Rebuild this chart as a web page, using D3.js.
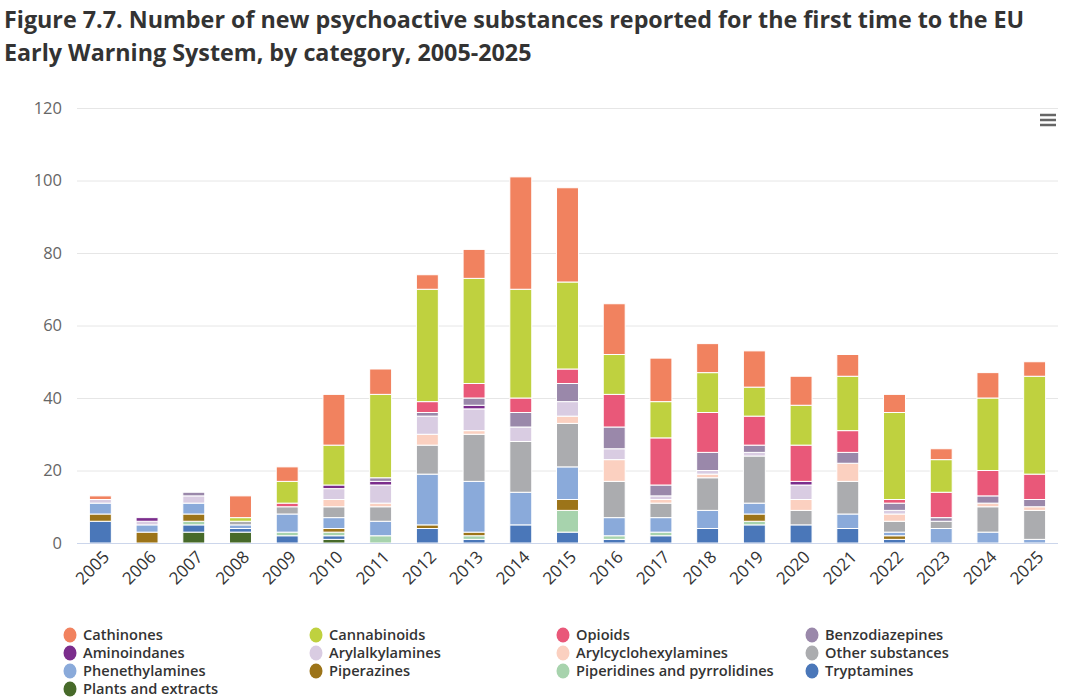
<!DOCTYPE html>
<html>
<head>
<meta charset="utf-8">
<script src="https://cdn.jsdelivr.net/npm/d3@7"></script>
<style>
	body { margin: 0; background: #fff; }
	svg { font-family: "Open Sans", "Noto Sans", sans-serif; }
</style>
</head>
<body>
<div id="chart"></div>
<script>
// categories
const years = ["2005","2006","2007","2008","2009","2010","2011","2012","2013","2014","2015",
	"2016","2017","2018","2019","2020","2021","2022","2023","2024","2025"];

// series values, one per year
const cathinones         = [1,0,0,6,4,14,7,4,8,31,26,14,12,8,10,8,6,5,3,7,4];
const cannabinoids       = [0,0,0,1,6,11,23,31,29,30,24,11,10,11,8,11,15,24,9,20,27];
const opioids            = [0,0,0,0,1,0,0,3,4,4,4,9,13,11,8,10,6,1,7,7,7];
const benzodiazepines    = [0,0,1,0,0,0,1,1,2,4,5,6,3,5,2,0,3,2,1,2,2];
const aminoindanes       = [0,1,0,0,0,1,1,0,1,0,0,0,0,0,0,1,0,0,0,0,0];
const arylalkylamines    = [1,1,2,0,0,3,5,5,6,4,4,3,1,1,1,4,0,1,0,0,0];
const arylcyclohexylamines = [0,0,0,0,0,2,1,3,1,0,2,6,1,1,0,3,5,2,0,1,1];
const otherSubstances    = [0,0,0,1,2,3,4,8,13,14,12,10,4,9,13,4,9,3,2,7,8];
const phenethylamines    = [3,2,3,1,5,3,4,14,14,9,9,5,4,5,3,0,4,1,4,3,1];
const piperazines        = [2,3,2,0,0,1,0,1,1,0,3,0,0,0,2,0,0,1,0,0,0];
const piperidines        = [0,0,1,0,1,1,2,0,1,0,6,1,1,0,1,0,0,0,0,0,0];
const tryptamines        = [6,0,2,1,2,1,0,4,1,5,3,1,2,4,5,5,4,1,0,0,0];
const plantsExtracts     = [0,0,3,3,0,1,0,0,0,0,0,0,0,0,0,0,0,0,0,0,0];

// tick labels
const yTicks = [0,20,40,60,80,100,120];

// legend order (first = top of the stack)
const seriesNames = ["Cathinones","Cannabinoids","Opioids","Benzodiazepines","Aminoindanes",
	"Arylalkylamines","Arylcyclohexylamines","Other substances","Phenethylamines","Piperazines",
	"Piperidines and pyrrolidines","Tryptamines","Plants and extracts"];
const seriesValues = [cathinones, cannabinoids, opioids, benzodiazepines, aminoindanes,
	arylalkylamines, arylcyclohexylamines, otherSubstances, phenethylamines, piperazines,
	piperidines, tryptamines, plantsExtracts];
const seriesColors = ["#f1825f","#bfd13f","#e95879","#9a88aa","#7b2d8c",
	"#d9cce2","#fbd0c0","#abacaf","#8aaada","#9c7419",
	"#a7d3ad","#4a77b9","#476a2a"];

const W = 1070, H = 700;
const plot = {left: 77, right: 1058, top: 108, bottom: 543};
const textColor = "#333333";

// build table rows for the stack
const table = years.map((y, i) => {
	const row = {year: y};
	seriesNames.forEach((s, k) => row[s] = seriesValues[k][i]);
	return row;
});

const svg = d3.select("#chart")
	.append("svg")
	.attr("width", W)
	.attr("height", H);

// title
const title = svg.append("text")
	.style("font-size", "23.3px")
	.attr("font-weight", "bold")
	.style("fill", textColor);
title.append("tspan").attr("x", 4).attr("y", 28)
	.text("Figure 7.7. Number of new psychoactive substances reported for the first time to the EU");
title.append("tspan").attr("x", 4).attr("y", 61)
	.text("Early Warning System, by category, 2005-2025");

// scales
const x = d3.scaleBand()
	.domain(years)
	.range([plot.left, plot.right])
	.paddingInner(0.53)
	.paddingOuter(0.265);

const y = d3.scaleLinear()
	.domain([0, 120])
	.range([plot.bottom, plot.top]);

// grid lines + y labels
svg.append("g")
	.attr("transform", `translate(${plot.left},0)`)
	.call(d3.axisLeft(y).tickValues(yTicks).tickSize(-(plot.right - plot.left)).tickPadding(15))
	.call(g => g.select(".domain").remove())
	.call(g => g.selectAll(".tick line").attr("stroke", "#e6e6e6"))
	.call(g => g.selectAll(".tick text")
		.style("font-size", "16.5px")
		.style("font-family", "'Open Sans', sans-serif")
		.attr("fill", "#666666"));

// stacked bars (reverse so the last series sits at the bottom)
const stackKeys = seriesNames.slice().reverse();
const stacked = d3.stack().keys(stackKeys)(table);
const color = d3.scaleOrdinal().domain(seriesNames).range(seriesColors);

svg.append("g")
	.selectAll("g")
	.data(stacked)
	.join("g")
	.attr("fill", d => color(d.key))
	.selectAll("rect")
	.data(d => d.filter(p => p[1] - p[0] > 0))
	.join("rect")
	.attr("x", d => x(d.data.year))
	.attr("y", d => y(d[1]))
	.attr("width", x.bandwidth())
	.attr("height", d => y(d[0]) - y(d[1]))
	.attr("stroke", "#ffffff")
	.attr("stroke-width", 1);

// x axis
svg.append("g")
	.attr("transform", `translate(0,${plot.bottom})`)
	.call(d3.axisBottom(x).tickSize(0).tickPadding(0))
	.call(g => g.select(".domain").attr("stroke", "#ccd6eb").attr("d", `M${plot.left},0.5H${plot.right}`))
	.call(g => g.selectAll(".tick text")
		.attr("text-anchor", "end")
		.attr("dy", null)
		.attr("y", null)
		.attr("transform", "translate(10,15) rotate(-45)")
		.style("font-size", "17px")
		.style("font-family", "'Open Sans', sans-serif")
		.attr("fill", textColor));

// menu icon
const menu = svg.append("g").attr("stroke", "#666666").attr("stroke-width", 2.5);
[115, 120, 125].forEach(v => {
	menu.append("line").attr("x1", 1040).attr("x2", 1056).attr("y1", v).attr("y2", v);
});

// legend
const legendCols = [70, 316, 563, 812];
const legendRows = [635, 653, 671, 689];
const legend = svg.append("g")
	.selectAll("g")
	.data(seriesNames)
	.join("g")
	.attr("transform", (d, i) => `translate(${legendCols[i % 4]},${legendRows[Math.floor(i / 4)]})`);

legend.append("ellipse")
	.attr("rx", 6.5)
	.attr("ry", 7.5)
	.attr("fill", d => color(d));

legend.append("text")
	.attr("x", 13)
	.attr("dy", "0.35em")
	.style("font-size", "14.6px")
	.attr("font-weight", 600)
	.style("fill", textColor)
	.text(d => d);
</script>
</body>
</html>
